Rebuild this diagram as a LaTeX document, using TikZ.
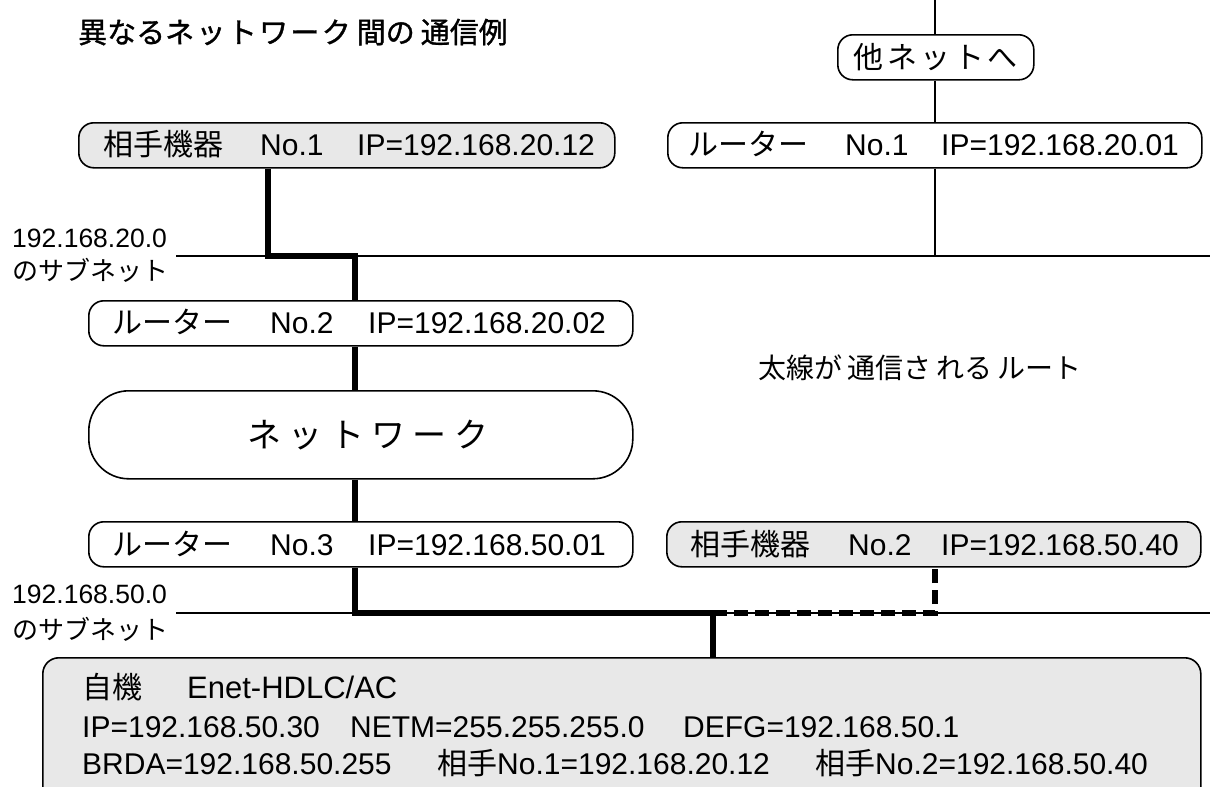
\documentclass[tikz,border=0pt]{standalone}
\usepackage{fontspec}
\setmainfont{Liberation Sans}
\newfontfamily\jp{Noto Sans CJK JP}
\newfontfamily\jpk[LetterSpace=12]{Noto Sans CJK JP}
\newfontfamily\jpw[LetterSpace=22]{Noto Sans CJK JP}
\newfontfamily\jpt[FakeBold=1.2]{Noto Sans CJK JP}
\newfontfamily\jptk[FakeBold=1.2,LetterSpace=8]{Noto Sans CJK JP}
\newcommand\fs[1]{\fontsize{#1pt}{#1pt}\selectfont}
\definecolor{boxgray}{RGB}{232,232,232}
\tikzset{
  box/.style={draw, line width=1.6pt, rounded corners=15pt, inner sep=0pt, anchor=north west},
  gbox/.style={box, fill=boxgray},
  wbox/.style={box, fill=white},
  route/.style={line width=6pt},
  dashroute/.style={line width=6pt, dash pattern=on 14pt off 7pt},
  thinline/.style={line width=1.6pt},
  txt/.style={anchor=base west, inner sep=0pt},
}
\begin{document}
\begin{tikzpicture}[x=1pt,y=-1pt]
\useasboundingbox (0,0) rectangle (1210,787);
% coordinates
\coordinate (top) at (935,0);
\coordinate (s20) at (935,256);
\coordinate (l20a) at (176,256);
\coordinate (l20b) at (1210,256);
\coordinate (l50a) at (176,613);
\coordinate (l50b) at (1210,613);
\coordinate (j1) at (268,256);
\coordinate (j2) at (355,256);
\coordinate (j3) at (355,613);
\coordinate (j4) at (713,613);
\coordinate (j5) at (935,613);

% title
\node[txt] (title) at (78,43) {\fs{29}\jpt 異なる{\jptk ネットワーク}\hspace{6pt}間の\hspace{6pt}通信例};

% subnet lines
\draw[thinline] (l20a) -- (l20b);
\draw[thinline] (l50a) -- (l50b);

% boxes
\node[wbox, minimum width=196, minimum height=45] (other) at (837,34) {\fs{30}\jpk 他ネットへ};
\node[gbox, minimum width=536, minimum height=45] (dev1) at (78,122) {};
\node[wbox, minimum width=534, minimum height=45] (r1) at (667,122) {};
\node[wbox, minimum width=544, minimum height=45] (r2) at (88,300) {};
\node[wbox, minimum width=544, minimum height=88, rounded corners=40pt] (net) at (88,390) {\hspace{14pt}\fs{34}\jpw ネットワーク};
\node[wbox, minimum width=544, minimum height=45] (r3) at (88,521) {};
\node[gbox, minimum width=534, minimum height=45] (dev2) at (666,521) {};
\begin{scope}
\clip (0,0) rectangle (1210,787);
\node[gbox, minimum width=1158, minimum height=220, rounded corners=16pt] (me) at (42,657) {};
\end{scope}

% thin line to other net
\draw[thinline] (top) -- (other.north -| top);
\draw[thinline] (other.south -| top) -- (r1.north -| top);
\draw[thinline] (r1.south -| top) -- (s20);

% route
\draw[route] (dev1.south -| j1) -- (j1) -- (j2) -- (r2.north -| j2);
\draw[route] (r2.south -| j2) -- (net.north -| j2);
\draw[route] (net.south -| j2) -- (r3.north -| j2);
\draw[route] (r3.south -| j2) -- (j3) -- (j4) -- (me.north -| j4);
\draw[dashroute] (j4) -- (j5) -- (dev2.south -| j5);

% box texts
\node[txt] (t1a) at (103,155) {\fs{30}\jp 相手機器};
\node[txt] (t1b) at (260,155) {\fs{30}No.1};
\node[txt] (t1c) at (357,155) {\fs{30}IP=192.168.20.12};
\node[txt] (t2a) at (688,155) {\fs{30}\jp ルーター};
\node[txt] (t2b) at (845,155) {\fs{30}No.1};
\node[txt] (t2c) at (941,155) {\fs{30}IP=192.168.20.01};
\node[txt] (t3a) at (112,333) {\fs{30}\jp ルーター};
\node[txt] (t3b) at (270,333) {\fs{30}No.2};
\node[txt] (t3c) at (368,333) {\fs{30}IP=192.168.20.02};
\node[txt] (t4a) at (112,555) {\fs{30}\jp ルーター};
\node[txt] (t4b) at (270,555) {\fs{30}No.3};
\node[txt] (t4c) at (368,555) {\fs{30}IP=192.168.50.01};
\node[txt] (t5a) at (690,555) {\fs{30}\jp 相手機器};
\node[txt] (t5b) at (848,555) {\fs{30}No.2};
\node[txt] (t5c) at (941,555) {\fs{30}IP=192.168.50.40};

% subnet labels
\node[txt] (n20a) at (12,247) {\fs{26.5}192.168.20.0};
\node[txt] (n20b) at (12,280) {\fs{26}\jp のサブネット};
\node[txt] (n50a) at (12,603) {\fs{26.5}192.168.50.0};
\node[txt] (n50b) at (12,639) {\fs{26}\jp のサブネット};

% legend
\node[txt] (legend) at (758,378) {\fs{28}\jp 太線が\hspace{5pt}通信さ\hspace{5pt}れる\hspace{5pt}ルート};

% own device text
\node[txt] (m1a) at (82,698) {\fs{30}\jp 自機};
\node[txt] (m1b) at (187,698) {\fs{31}Enet-HDLC/AC};
\node[txt] (m2a) at (82,737) {\fs{30}IP=192.168.50.30};
\node[txt] (m2b) at (350,737) {\fs{30}NETM=255.255.255.0};
\node[txt] (m2c) at (683,737) {\fs{30}DEFG=192.168.50.1};
\node[txt] (m3a) at (82,774) {\fs{30}BRDA=192.168.50.255};
\node[txt] (m3b) at (437,774) {\fs{30}{\jp 相手}No.1=192.168.20.12};
\node[txt] (m3c) at (815,774) {\fs{30}{\jp 相手}No.2=192.168.50.40};
\end{tikzpicture}
\end{document}
